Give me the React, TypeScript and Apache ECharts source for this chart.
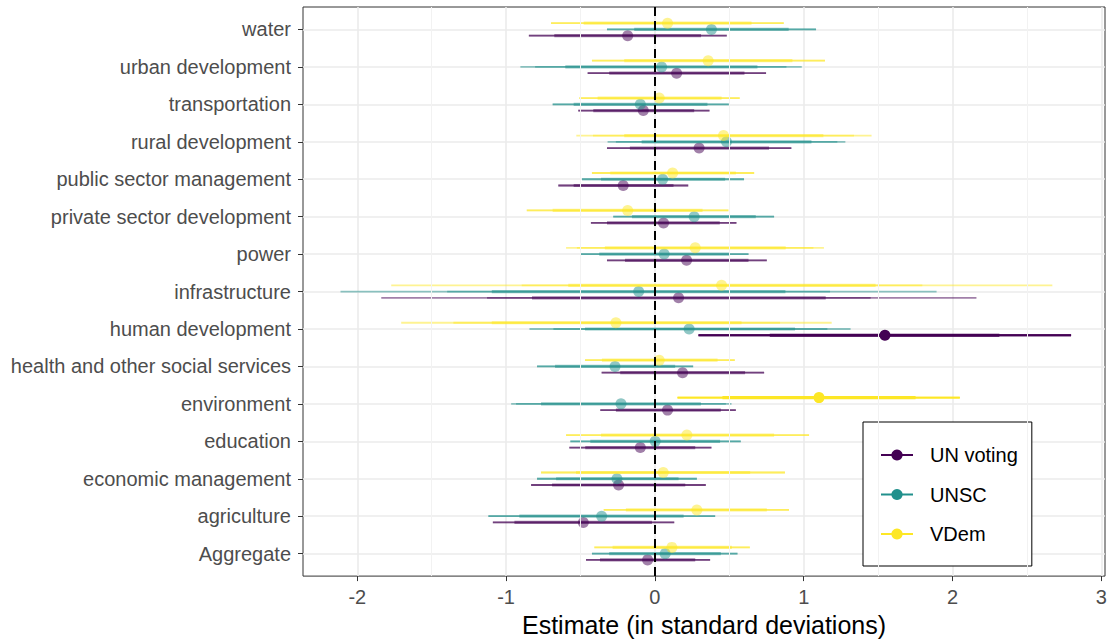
import React, { useEffect, useRef } from "react";
import * as echarts from "echarts";

const categories = [
  "water",
  "urban development",
  "transportation",
  "rural development",
  "public sector management",
  "private sector development",
  "power",
  "infrastructure",
  "human development",
  "health and other social services",
  "environment",
  "education",
  "economic management",
  "agriculture",
  "Aggregate",
];

const xTicks = [-2, -1, 0, 1, 2, 3];
const xMinorBreaks = [-1.5, -0.5, 0.5, 1.5, 2.5];
const catIndex = categories.map((_, i) => i);

// UN voting
const unvEst = [-0.183, 0.146, -0.078, 0.297, -0.213, 0.058, 0.213, 0.159, 1.546, 0.186, 0.085, -0.098, -0.244, -0.481, -0.049];
const unvInnerLo = [-0.676, -0.307, -0.414, -0.168, -0.546, -0.322, -0.201, -0.826, 0.772, -0.233, -0.262, -0.468, -0.691, -0.944, -0.369];
const unvInnerHi = [0.31, 0.602, 0.264, 0.767, 0.125, 0.436, 0.629, 1.148, 2.315, 0.606, 0.443, 0.271, 0.204, -0.02, 0.271];
const unvMidLo = [-0.847, -0.452, -0.515, -0.322, -0.649, -0.43, -0.322, -1.128, 0.293, -0.358, -0.367, -0.575, -0.832, -1.089, -0.463];
const unvMidHi = [0.483, 0.747, 0.367, 0.917, 0.224, 0.548, 0.752, 1.45, 2.797, 0.734, 0.544, 0.38, 0.342, 0.13, 0.371];
const unvOuterLo = [-0.847, -0.452, -0.515, -0.322, -0.649, -0.43, -0.322, -1.839, 0.293, -0.358, -0.367, -0.575, -0.832, -1.089, -0.463];
const unvOuterHi = [0.483, 0.747, 0.367, 0.917, 0.224, 0.548, 0.752, 2.161, 2.797, 0.734, 0.544, 0.38, 0.342, 0.13, 0.371];
const unvSig = [0, 0, 0, 0, 0, 0, 0, 0, 1, 0, 0, 0, 0, 0, 0];

// UNSC
const unscEst = [0.38, 0.045, -0.098, 0.481, 0.052, 0.264, 0.062, -0.109, 0.23, -0.268, -0.228, 0.002, -0.255, -0.358, 0.069];
const unscInnerLo = [-0.139, -0.602, -0.546, -0.089, -0.362, -0.154, -0.374, -1.096, -0.47, -0.671, -0.765, -0.434, -0.664, -0.911, -0.307];
const unscInnerHi = [0.899, 0.689, 0.353, 1.052, 0.472, 0.678, 0.499, 0.877, 0.942, 0.136, 0.309, 0.438, 0.159, 0.193, 0.443];
const unscMidLo = [-0.322, -0.805, -0.687, -0.262, -0.49, -0.28, -0.503, -1.396, -0.682, -0.792, -0.933, -0.568, -0.792, -1.119, -0.423];
const unscMidHi = [1.083, 0.884, 0.497, 1.226, 0.599, 0.801, 0.629, 1.177, 1.159, 0.257, 0.477, 0.577, 0.282, 0.405, 0.555];
const unscOuterLo = [-0.322, -0.904, -0.687, -0.318, -0.49, -0.28, -0.503, -2.113, -0.843, -0.792, -0.966, -0.568, -0.792, -1.119, -0.423];
const unscOuterHi = [1.083, 0.987, 0.497, 1.28, 0.599, 0.801, 0.629, 1.893, 1.315, 0.257, 0.515, 0.577, 0.282, 0.405, 0.555];
const unscSig = [0, 0, 0, 0, 0, 0, 0, 0, 0, 0, 0, 0, 0, 0, 0];

// VDem
const vdemEst = [0.085, 0.358, 0.029, 0.461, 0.119, -0.183, 0.271, 0.448, -0.262, 0.029, 1.103, 0.215, 0.056, 0.282, 0.114];
const vdemInnerLo = [-0.479, -0.206, -0.385, -0.206, -0.3, -0.687, -0.336, -0.582, -1.096, -0.356, 0.454, -0.362, -0.53, -0.195, -0.284];
const vdemInnerHi = [0.649, 0.924, 0.448, 1.132, 0.544, 0.32, 0.879, 1.483, 0.582, 0.421, 1.752, 0.801, 0.64, 0.752, 0.517];
const vdemMidLo = [-0.698, -0.423, -0.508, -0.416, -0.423, -0.861, -0.524, -0.895, -1.354, -0.47, 0.152, -0.597, -0.765, -0.344, -0.407];
const vdemMidHi = [0.866, 1.143, 0.57, 1.338, 0.667, 0.494, 1.065, 1.797, 0.841, 0.537, 2.049, 1.036, 0.874, 0.901, 0.638];
const vdemOuterLo = [-0.698, -0.423, -0.508, -0.528, -0.423, -0.861, -0.597, -1.772, -1.705, -0.47, 0.152, -0.597, -0.765, -0.344, -0.407];
const vdemOuterHi = [0.866, 1.143, 0.57, 1.456, 0.667, 0.494, 1.136, 2.671, 1.188, 0.537, 2.049, 1.036, 0.874, 0.901, 0.638];
const vdemSig = [0, 0, 0, 0, 0, 0, 0, 0, 0, 0, 1, 0, 0, 0, 0];

const FONT = "'Liberation Sans', Arial, Helvetica, sans-serif";

const models = [
  { name: "UN voting", color: "#440154", offset: 0.167, est: unvEst, iLo: unvInnerLo, iHi: unvInnerHi, mLo: unvMidLo, mHi: unvMidHi, oLo: unvOuterLo, oHi: unvOuterHi, sig: unvSig },
  { name: "UNSC", color: "#21908C", offset: 0, est: unscEst, iLo: unscInnerLo, iHi: unscInnerHi, mLo: unscMidLo, mHi: unscMidHi, oLo: unscOuterLo, oHi: unscOuterHi, sig: unscSig },
  { name: "VDem", color: "#FDE725", offset: -0.167, est: vdemEst, iLo: vdemInnerLo, iHi: vdemInnerHi, mLo: vdemMidLo, mHi: vdemMidHi, oLo: vdemOuterLo, oHi: vdemOuterHi, sig: vdemSig },
];

function buildOption() {
  const customSeries = models.map((m) => ({
    type: "custom",
    name: m.name + " estimates",
    z: 3,
    encode: { x: [1, 2, 3, 4, 5, 6, 7], y: 0 },
    data: catIndex.map((i) => [i, m.est[i], m.iLo[i], m.iHi[i], m.mLo[i], m.mHi[i], m.oLo[i], m.oHi[i], m.sig[i]]),
    renderItem: (params: any, api: any) => {
      const yv = api.value(0) + m.offset;
      const op = api.value(8) === 1 ? 1 : 0.5;
      const seg = (lo: number, hi: number, w: number) => {
        const a = api.coord([lo, yv]);
        const b = api.coord([hi, yv]);
        return {
          type: "line",
          shape: { x1: a[0], y1: a[1], x2: b[0], y2: b[1] },
          style: { stroke: m.color, lineWidth: w, opacity: op },
        };
      };
      const c = api.coord([api.value(1), yv]);
      return {
        type: "group",
        children: [
          seg(api.value(6), api.value(7), 1.8),
          seg(api.value(4), api.value(5), 1.8),
          seg(api.value(2), api.value(3), 3.2),
          { type: "circle", shape: { cx: c[0], cy: c[1], r: 5.5 }, style: { fill: m.color, opacity: op } },
        ],
      };
    },
  }));

  const legendSeries = models.map((m) => ({
    type: "line",
    name: m.name,
    data: [],
    color: m.color,
    symbol: "circle",
    symbolSize: 10,
    lineStyle: { width: 3, color: m.color },
    itemStyle: { color: m.color },
  }));

  return {
    animation: false,
    backgroundColor: "#ffffff",
    textStyle: { fontFamily: FONT },
    grid: {
      left: 303,
      right: 6,
      top: 7,
      bottom: 61,
      show: true,
      borderColor: "#333333",
      borderWidth: 1,
      backgroundColor: "transparent",
      containLabel: false,
    },
    xAxis: {
      type: "value",
      min: -2.365,
      max: 3.025,
      name: "Estimate (in standard deviations)",
      nameLocation: "middle",
      nameGap: 33,
      nameTextStyle: { fontSize: 25, color: "#000000", fontFamily: FONT },
      axisLine: { show: false, onZero: false },
      axisTick: { show: true, customValues: xTicks, length: 5, lineStyle: { color: "#333333", width: 1 } },
      axisLabel: { customValues: xTicks, fontSize: 20, color: "#4D4D4D", margin: 11, fontFamily: FONT },
      splitLine: { show: true, lineStyle: { color: "#EBEBEB", width: 1.6 } },
    },
    yAxis: {
      type: "value",
      min: -0.6,
      max: 14.6,
      inverse: true,
      axisLine: { show: false, onZero: false },
      axisTick: { show: true, customValues: catIndex, length: 5, lineStyle: { color: "#333333", width: 1 } },
      axisLabel: {
        customValues: catIndex,
        fontSize: 20,
        color: "#4D4D4D",
        margin: 12,
        fontFamily: FONT,
        formatter: (v: number) => categories[Math.round(v)] ?? "",
      },
      splitLine: { show: true, lineStyle: { color: "#EBEBEB", width: 1.6 } },
    },
    legend: {
      data: models.map((m) => m.name),
      orient: "vertical",
      left: 863,
      top: 422,
      padding: [23, 14, 22, 17],
      itemGap: 19.5,
      itemWidth: 32,
      itemHeight: 14,
      borderColor: "#000000",
      borderWidth: 1,
      backgroundColor: "#ffffff",
      selectedMode: false,
      textStyle: { fontSize: 20, color: "#000000", fontFamily: FONT, lineHeight: 20, padding: [0, 0, 0, 12] },
    },
    series: [
      {
        type: "line",
        name: "minor grid",
        data: [],
        silent: true,
        z: 1,
        markLine: {
          silent: true,
          symbol: ["none", "none"],
          label: { show: false },
          lineStyle: { color: "#F2F2F2", width: 1, type: "solid" },
          data: xMinorBreaks.map((v) => ({ xAxis: v })),
        },
      },
      ...customSeries,
      {
        type: "line",
        name: "zero line",
        data: [],
        silent: true,
        z: 10,
        markLine: {
          silent: true,
          symbol: ["none", "none"],
          label: { show: false },
          lineStyle: { color: "#000000", width: 2, type: [9, 5] },
          data: [{ xAxis: 0 }],
        },
      },
      ...legendSeries,
    ],
  };
}

export default function App() {
  const ref = useRef<HTMLDivElement>(null);
  useEffect(() => {
    if (!ref.current) return;
    const chart = echarts.init(ref.current, null, { renderer: "svg" });
    chart.setOption(buildOption() as any);
    return () => chart.dispose();
  }, []);
  return (
    <div
      ref={ref}
      style={{ position: "fixed", left: 0, top: 0, width: 1111, height: 642, background: "#ffffff" }}
    />
  );
}
